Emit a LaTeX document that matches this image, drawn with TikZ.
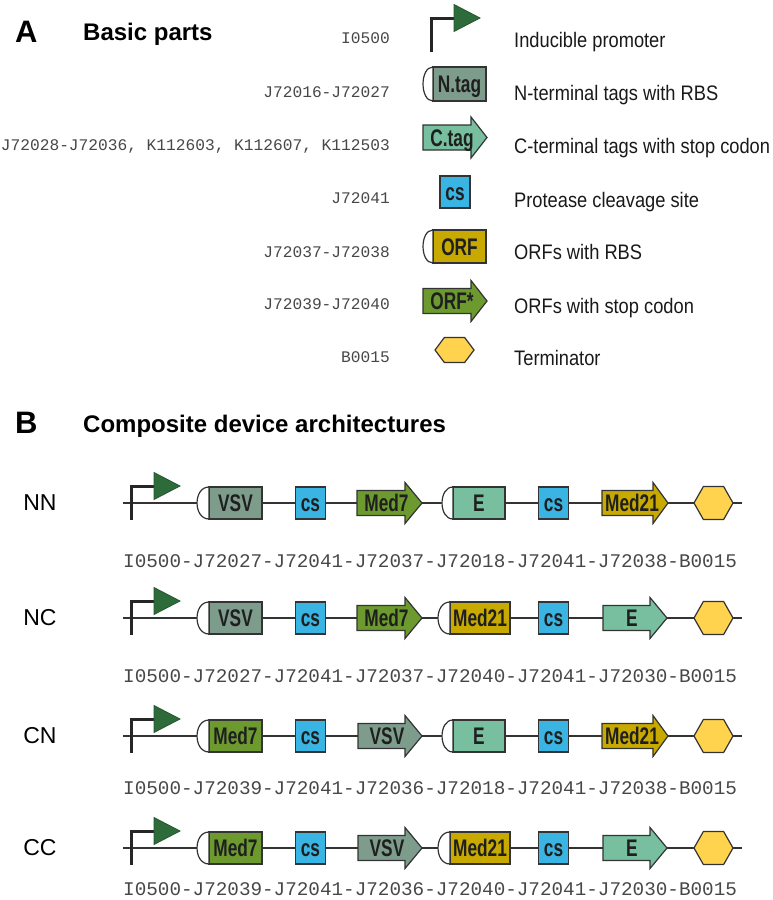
\documentclass[tikz,border=0pt]{standalone}
\usepackage{fontspec}
\setmainfont{Liberation Sans}
\setmonofont{Liberation Mono}
\newfontfamily\glyphFont[FakeStretch=0.72]{Liberation Sans}
\newfontfamily\descFont[FakeStretch=0.87]{Liberation Sans}

\definecolor{outline}{HTML}{333333}
\definecolor{promFill}{HTML}{2E6B3B}
\definecolor{tagNFill}{HTML}{7E9C8C}
\definecolor{tagCFill}{HTML}{77BF9E}
\definecolor{csFill}{HTML}{3AB5E3}
\definecolor{orfFill}{HTML}{C7A900}
\definecolor{orfStopFill}{HTML}{6D9A2E}
\definecolor{termFill}{HTML}{FFD34E}

\def \bodyHalf {12.5}
\def \headHalf {20.5}

\tikzset{
  part/.style={draw=outline, line width=1.2pt, line join=miter},
  glyphtext/.style={inner sep=0pt, font=\glyphFont\bfseries\fontsize{24}{24}\selectfont, text=black!88, text height=17pt, text depth=0pt},
  partbox/.style={part, rectangle, outer sep=0pt, glyphtext},
  csbox/.style={partbox, fill=csFill, minimum width=29.5pt, minimum height=32pt},
  backbone/.style={draw=outline, line width=1.5pt},
  promline/.style={draw=black!85, line width=3pt},
  promtip/.style={fill=promFill, draw=promFill!80!black, line width=0.8pt},
  idtext/.style={font=\ttfamily\fontsize{16.2}{16.2}\selectfont, text=black!72, inner sep=0pt, anchor=base east},
  desctext/.style={font=\descFont\fontsize{21}{21}\selectfont, text=black!90, inner sep=0pt, anchor=base west},
  seqtext/.style={font=\ttfamily\fontsize{19.3}{19.3}\selectfont, text=black!72, inner sep=0pt, anchor=base west},
  rowlabel/.style={font=\fontsize{23}{23}\selectfont, inner sep=0pt},
  panel/.style={font=\bfseries\fontsize{31}{31}\selectfont, inner sep=0pt, anchor=base west},
  heading/.style={font=\bfseries\fontsize{24}{24}\selectfont, inner sep=0pt, anchor=base west}
}

% name, x, arm y
\newcommand{\promoter}[3]{%
  \coordinate (#1) at (#2,#3+34);
  \draw[promline] (#1) -- (#2,#3) -- (#2+23,#3);
  \filldraw[promtip] (#2+23,#3-13.5) -- (#2+49,#3) -- (#2+23,#3+13.5) -- cycle;
}
% name, arc x, left x, right x, y, half height, colour, text
\newcommand{\rbsBlock}[8]{%
  \node[partbox, fill=#7, minimum width={#4-#3}, minimum height={2*#6}] (#1) at ({(#3+#4)/2},#5) {#8};
  \draw[part, fill=white] (#1.north west) .. controls +({-1.33*(#3-#2)},0) and +({-1.33*(#3-#2)},0) .. (#1.south west) -- cycle;
}
% name, left x, body end x, tip x, y, colour, text
\newcommand{\cdsArrow}[7]{%
  \filldraw[part, fill=#6] (#2,#5-\bodyHalf) -- (#3,#5-\bodyHalf) -- (#3,#5-\headHalf) -- (#4,#5) -- (#3,#5+\headHalf) -- (#3,#5+\bodyHalf) -- (#2,#5+\bodyHalf) -- cycle;
  \node[glyphtext] (#1) at ({(#2+#4)/2-3},#5) {#7};
}
% name, left x, right x, y, half height
\newcommand{\terminator}[5]{%
  \coordinate (#1) at ({(#2+#3)/2},#4);
  \filldraw[part, fill=termFill] (#2,#4) -- ({#2+0.24*(#3-#2)},#4-#5) -- ({#3-0.24*(#3-#2)},#4-#5) -- (#3,#4) -- ({#3-0.24*(#3-#2)},#4+#5) -- ({#2+0.24*(#3-#2)},#4+#5) -- cycle;
}

\begin{document}
\begin{tikzpicture}[x=1pt, y=-1pt]
  \useasboundingbox (0,0) rectangle (773,900);

  % A: basic parts
  \node[panel] (A) at (15,42) {A};
  \node[heading] (A-title) at (83,40) {Basic parts};

  \promoter{a-prom}{431}{18}
  \rbsBlock{a-ntag}{423}{433}{486}{84}{17}{tagNFill}{N.tag}
  \cdsArrow{a-ctag}{423}{471}{487}{137.5}{tagCFill}{C.tag}
  \node[csbox, minimum width=30pt] (a-cs) at (455,192) {cs};
  \rbsBlock{a-orf}{423}{433}{486}{246.5}{16.5}{orfFill}{ORF}
  \cdsArrow{a-orfstop}{423}{471}{487}{301}{orfStopFill}{ORF*}
  \terminator{a-term}{435}{474}{350}{12.5}

  \node[idtext] (id-prom) at (390,43) {I0500};
  \node[idtext] (id-ntag) at (390,97) {J72016-J72027};
  \node[idtext] (id-ctag) at (390,150) {J72028-J72036, K112603, K112607, K112503};
  \node[idtext] (id-cs) at (390,203) {J72041};
  \node[idtext] (id-orf) at (390,257) {J72037-J72038};
  \node[idtext] (id-orfstop) at (390,309) {J72039-J72040};
  \node[idtext] (id-term) at (390,362) {B0015};

  \node[desctext] (d-prom) at (514,47) {Inducible promoter};
  \node[desctext] (d-ntag) at (514,100) {N-terminal tags with RBS};
  \node[desctext] (d-ctag) at (514,153) {C-terminal tags with stop codon};
  \node[desctext] (d-cs) at (514,207) {Protease cleavage site};
  \node[desctext] (d-orf) at (514,259) {ORFs with RBS};
  \node[desctext] (d-orfstop) at (514,313) {ORFs with stop codon};
  \node[desctext] (d-term) at (514,365) {Terminator};

  % B: composite devices
  \node[panel] (B) at (15,433) {B};
  \node[heading] (B-title) at (83,432) {Composite device architectures};

  % NN
  \node[rowlabel] (nn) at (40,503) {NN};
  \coordinate (nn-start) at (123,503);
  \coordinate (nn-end) at (742,503);
  \draw[backbone] (nn-start) -- (nn-end);
  \promoter{nn-prom}{131}{486}
  \rbsBlock{nn-vsv}{197}{209}{262}{503}{16}{tagNFill}{VSV}
  \node[csbox] (nn-cs1) at (310.5,503) {cs};
  \cdsArrow{nn-med7}{357}{405}{422}{503}{orfStopFill}{Med7}
  \rbsBlock{nn-e}{442}{453}{505}{503}{16}{tagCFill}{E}
  \node[csbox] (nn-cs2) at (553.5,503) {cs};
  \cdsArrow{nn-med21}{602}{653}{668}{503}{orfFill}{Med21}
  \terminator{nn-term}{694}{733}{503}{16.5}
  \node[seqtext] (nn-seq) at (123,567) {I0500-J72027-J72041-J72037-J72018-J72041-J72038-B0015};

  % NC
  \node[rowlabel] (nc) at (40,618) {NC};
  \coordinate (nc-start) at (123,618);
  \coordinate (nc-end) at (742,618);
  \draw[backbone] (nc-start) -- (nc-end);
  \promoter{nc-prom}{131}{601}
  \rbsBlock{nc-vsv}{197}{209}{262}{618}{16}{tagNFill}{VSV}
  \node[csbox] (nc-cs1) at (310.5,618) {cs};
  \cdsArrow{nc-med7}{357}{405}{422}{618}{orfStopFill}{Med7}
  \rbsBlock{nc-med21}{438}{450}{510}{618}{16}{orfFill}{Med21}
  \node[csbox] (nc-cs2) at (553.5,618) {cs};
  \cdsArrow{nc-e}{603}{650}{667}{618}{tagCFill}{E}
  \terminator{nc-term}{694}{733}{618}{16.5}
  \node[seqtext] (nc-seq) at (123,682) {I0500-J72027-J72041-J72037-J72040-J72041-J72030-B0015};

  % CN
  \node[rowlabel] (cn) at (40,736) {CN};
  \coordinate (cn-start) at (123,736);
  \coordinate (cn-end) at (742,736);
  \draw[backbone] (cn-start) -- (cn-end);
  \promoter{cn-prom}{131}{719}
  \rbsBlock{cn-med7}{197}{209}{262}{736}{16}{orfStopFill}{Med7}
  \node[csbox] (cn-cs1) at (310.5,736) {cs};
  \cdsArrow{cn-vsv}{358}{405}{422}{736}{tagNFill}{VSV}
  \rbsBlock{cn-e}{442}{453}{505}{736}{16}{tagCFill}{E}
  \node[csbox] (cn-cs2) at (553.5,736) {cs};
  \cdsArrow{cn-med21}{602}{653}{668}{736}{orfFill}{Med21}
  \terminator{cn-term}{694}{733}{736}{16.5}
  \node[seqtext] (cn-seq) at (123,794) {I0500-J72039-J72041-J72036-J72018-J72041-J72038-B0015};

  % CC
  \node[rowlabel] (cc) at (40,848) {CC};
  \coordinate (cc-start) at (123,848);
  \coordinate (cc-end) at (742,848);
  \draw[backbone] (cc-start) -- (cc-end);
  \promoter{cc-prom}{131}{831}
  \rbsBlock{cc-med7}{197}{209}{262}{848}{16}{orfStopFill}{Med7}
  \node[csbox] (cc-cs1) at (310.5,848) {cs};
  \cdsArrow{cc-vsv}{358}{405}{422}{848}{tagNFill}{VSV}
  \rbsBlock{cc-med21}{438}{450}{510}{848}{16}{orfFill}{Med21}
  \node[csbox] (cc-cs2) at (553.5,848) {cs};
  \cdsArrow{cc-e}{603}{650}{667}{848}{tagCFill}{E}
  \terminator{cc-term}{694}{733}{848}{16.5}
  \node[seqtext] (cc-seq) at (123,895.5) {I0500-J72039-J72041-J72036-J72040-J72041-J72030-B0015};
\end{tikzpicture}
\end{document}
